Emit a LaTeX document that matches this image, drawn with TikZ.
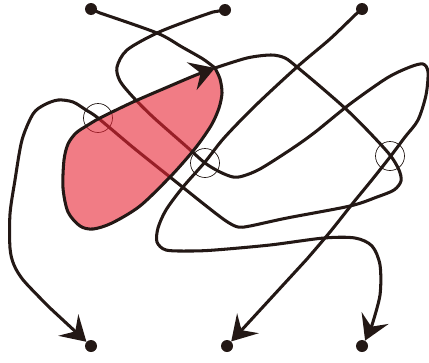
\documentclass[tikz,border=0pt]{standalone}
\usepackage{tikz}
\usepackage{xcolor}
\usetikzlibrary{arrows.meta}
\definecolor{inkblack}{RGB}{35,24,21}
\definecolor{blobred}{RGB}{231,36,52}
\newcommand{\blobloop}{plot[smooth] coordinates {(kink) (220,79) (222,93) (219,108) (212,124) (200,142) (188,157) (170,177) (140,206) (112,223) (93,229) (80,226) (68,212) (63,188) (64,160) (68,144) (76,133) (88,125) (100,118) (133,102) (170,86) (196,75) (kink)}}

\begin{document}
\begin{tikzpicture}[
  x=0.03cm, y=-0.03cm,
  strand/.style={draw=inkblack, line width=2.6pt, line join=round, line cap=round},
  headtip/.style={-{Stealth[length=21pt, width=25pt, inset=8pt]}},
  dot/.style={circle, fill=inkblack, inner sep=0pt, minimum size=0.36cm},
  ring/.style={circle, draw=inkblack, line width=0.6pt, inner sep=0pt, minimum size=0.87cm},
  blobfill/.style={fill=blobred, fill opacity=0.6},
]
\useasboundingbox (0,0) rectangle (429,362);
% Ends
\node[dot] (t1) at (91,9) {};
\node[dot] (t2) at (225,10) {};
\node[dot] (t3) at (362,9) {};
\node[dot] (b1) at (91,346) {};
\node[dot] (b2) at (227,346) {};
\node[dot] (b3) at (362,346) {};
% Crossings
\node[ring] (c1) at (98,118) {};
\node[ring] (c2) at (205,163) {};
\node[ring] (c3) at (390,156) {};
\coordinate (kink) at (215,68);
% Strands
\draw[strand, headtip] (t3.center) -- plot[smooth] coordinates {(355,15) (330,39) (297,67) (255,106) (224,138) (205,162) (183,187) (166,210) (158,228) (157,242) (166,250) (190,251) (215,250) (270,245) (324,238) (355,238) (372,246) (380,265) (380,295) (372,325)} -- (b3.60);
\draw[strand, headtip] (t2.center) -- plot[smooth] coordinates {(213,12) (190,20) (157,33) (127,50) (117,67) (120,81) (133,97) (153,117) (187,147) (205,163) (220,172) (233,177) (243,176) (260,169) (290,150) (314,133) (350,104) (387,78) (410,67) (423,64) (428,72) (426,95) (418,120) (405,137) (390,157) (371,181) (353,203) (330,232) (307,259)} -- (b2);
\draw[strand, headtip] plot[smooth] coordinates {(kink) (247,58) (271,55) (285,58) (297,67) (322,88) (347,110) (370,133) (390,155) (399,170) (401,181) (394,190) (377,197) (350,206) (287,218) (250,226) (238,227) (226,221) (205,205) (175,181) (135,149) (98,118) (86,110) (73,102) (58,100) (44,105) (33,114) (22,140) (15,180) (10,214) (10,248) (14,265) (24,281) (50,308)} -- (b1);
% Shaded loop
\fill[blobfill] \blobloop;
\draw[strand] (t1.center) -- plot[smooth] coordinates {(100,13) (157,33) (182,47) (203,59) (kink)};
\draw[strand, headtip] \blobloop;
\end{tikzpicture}
\end{document}
